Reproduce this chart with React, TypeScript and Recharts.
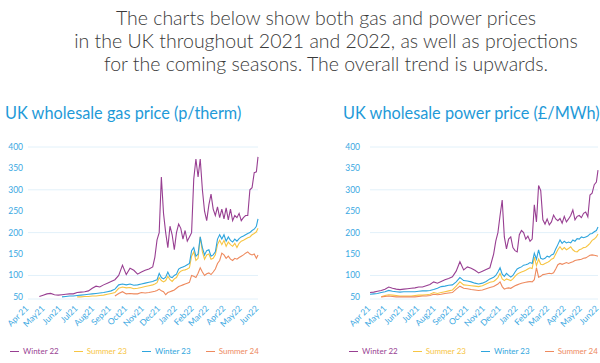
import { LineChart, Line, XAxis, YAxis, CartesianGrid, Legend } from 'recharts';

const FONT = 'Lato, "Open Sans", sans-serif';
const AXIS_BLUE = '#3aa8e2';
const TITLE_BLUE = '#1f9ad8';

// x positions: days since 1 Apr 2021 (weekly, then every 4 days)
const DAYS = [
  0, 7, 14, 21, 28, 35, 42, 49, 56, 63, 70, 77, 84, 91, 98, 105, 112, 119, 126, 133, 140, 147, 154,
  161, 168, 175, 182, 189, 196, 203, 210, 217, 224, 231,
  235, 239, 243, 247, 251, 255, 259, 263, 267, 271, 275, 279, 283, 287, 291, 295, 299, 303, 307, 311,
  315, 319, 323, 327, 331, 335, 339, 343, 347, 351, 355, 359, 363, 367, 371, 375, 379, 383, 387, 391,
  395, 399, 403, 407, 411, 415, 419, 423, 426,
];

const MONTH_TICKS = [0, 30, 61, 91, 122, 153, 183, 214, 244, 275, 306, 334, 365, 395, 426];
const MONTH_LABELS = ['Apr 21', 'May21', 'Jun21', 'Jul21', 'Aug21', 'Sep21', 'Oct21', 'Nov21', 'Dec21', 'Jan22', 'Feb22', 'Mar22', 'Apr22', 'May22', 'Jun22'];
const Y_TICKS = [50, 100, 150, 200, 250, 300, 350, 400];

const SERIES = [
  { key: 'w22', name: 'Winter 22', color: '#983f92' },
  { key: 's23', name: 'Summer 23', color: '#f7c543' },
  { key: 'w23', name: 'Winter 23', color: '#2ea5dd' },
  { key: 's24', name: 'Summer 24', color: '#ee8a5e' },
];

// gas, p/therm
const GAS_WINTER22 = [
  null, null, null, 51, 54, 57, 58, 55, 54, 55, 56, 57, 57, 60, 61, 62, 64, 70, 75, 73, 78, 82, 86,
  90, 100, 124, 102, 117, 112, 103, 108, 112, 115, 120,
  143, 183, 200, 330, 245, 200, 165, 215, 195, 160, 200, 220, 210, 185, 205, 180, 190, 200, 325, 372,
  330, 372, 300, 250, 228, 265, 290, 255, 240, 260, 235, 255, 232, 258, 230, 255, 228, 240, 235, 245,
  228, 235, 240, 240, 300, 305, 340, 342, 377,
];
const GAS_SUMMER23 = [
  null, null, null, null, null, null, null, null, null, null, null, null, null, 50, 50, 51, 51, 52, 52, 53, 54, 56, 58,
  60, 70, 73, 71, 72, 69, 70, 72, 74, 76, 78,
  80, 83, 95, 88, 85, 88, 98, 90, 86, 92, 95, 105, 110, 112, 113, 115, 118, 145, 155, 135,
  140, 190, 155, 138, 148, 150, 138, 140, 148, 172, 182, 172, 182, 168, 178, 172, 168, 175, 165, 175,
  180, 182, 185, 188, 190, 195, 198, 202, 210,
];
const GAS_WINTER23 = [
  null, null, null, null, null, null, null, null, null, 50, 51, 52, 52, 53, 54, 55, 56, 57, 58, 59, 60, 62, 64,
  68, 78, 80, 78, 80, 77, 78, 80, 82, 84, 86,
  88, 90, 105, 95, 92, 96, 108, 97, 95, 100, 103, 115, 118, 120, 122, 125, 128, 158, 165, 145,
  150, 190, 165, 148, 158, 160, 145, 148, 155, 185, 195, 185, 195, 180, 190, 182, 178, 185, 180, 186,
  190, 192, 195, 198, 200, 205, 208, 215, 232,
];
const GAS_SUMMER24 = [
  null, null, null, null, null, null, null, null, null, null, null, null, null, null, null, null, null, null, null, null, null, null, null,
  52, 58, 62, 57, 58, 57, 57, 60, 59, 60, 62,
  63, 65, 68, 64, 62, 55, 60, 62, 64, 66, 70, 74, 76, 78, 80, 82, 84, 100, 98, 95,
  105, 118, 108, 100, 104, 106, 102, 108, 115, 128, 135, 152, 148, 140, 145, 138, 135, 140, 138, 142,
  145, 148, 152, 155, 150, 148, 150, 140, 148,
];

// power, £/MWh
const POWER_WINTER22 = [
  60, 61, 63, 65, 68, 73, 70, 68, 67, 68, 69, 70, 71, 73, 73, 76, 79, 85, 82, 86, 90, 93, 97,
  110, 132, 113, 120, 117, 112, 106, 110, 114, 118, 150,
  180, 200, 240, 276, 190, 162, 185, 190, 165, 158, 155, 195, 205, 200, 185, 192, 180, 185, 265, 225,
  310, 298, 230, 220, 232, 218, 225, 241, 232, 228, 233, 222, 238, 225, 232, 240, 253, 230, 238, 240,
  235, 245, 248, 237, 288, 292, 312, 318, 346,
];
const POWER_SUMMER23 = [
  null, null, null, 50, 53, 55, 54, 53, 52, 52, 52, 52, 53, 54, 54, 55, 56, 60, 58, 60, 62, 64, 66,
  75, 85, 78, 77, 76, 75, 74, 76, 80, 84, 86,
  90, 95, 105, 92, 88, 92, 90, 88, 92, 98, 103, 106, 108, 110, 112, 115, 118, 116, 143, 123,
  138, 126, 125, 128, 130, 133, 138, 140, 150, 160, 167, 160, 165, 160, 163, 167, 160, 156, 155, 160,
  162, 165, 166, 170, 175, 182, 185, 190, 197,
];
const POWER_WINTER23 = [
  56, 57, 58, 60, 62, 65, 63, 62, 61, 62, 62, 62, 62, 63, 64, 64, 65, 67, 70, 74, 75, 77, 78,
  85, 95, 88, 87, 85, 82, 80, 82, 86, 92, 96,
  100, 108, 118, 103, 98, 105, 100, 96, 100, 108, 115, 118, 120, 124, 125, 127, 130, 128, 152, 138,
  160, 140, 138, 140, 145, 143, 148, 150, 162, 172, 183, 175, 180, 176, 178, 176, 183, 180, 186, 185,
  190, 188, 190, 192, 197, 198, 202, 205, 213,
];
const POWER_SUMMER24 = [
  null, null, null, 50, 51, 52, 51, 50, 50, 50, 50, 50, 50, 51, 52, 52, 53, 56, 55, 56, 58, 59, 60,
  68, 75, 70, 69, 67, 66, 65, 66, 69, 72, 74,
  77, 80, 85, 74, 68, 70, 71, 70, 73, 76, 78, 80, 82, 83, 84, 85, 86, 85, 90, 118,
  96, 98, 102, 103, 104, 105, 104, 106, 115, 125, 128, 126, 128, 130, 128, 130, 132, 135, 136, 137,
  138, 140, 141, 144, 147, 148, 147, 146, 145,
];

const HEADLINE = [
  'The charts below show both gas and power prices',
  'in the UK throughout 2021 and 2022, as well as projections',
  'for the coming seasons. The overall trend is upwards.',
];

function buildRows(w22: (number | null)[], s23: (number | null)[], w23: (number | null)[], s24: (number | null)[]) {
  return DAYS.map((day, i) => ({ day, w22: w22[i], s23: s23[i], w23: w23[i], s24: s24[i] }));
}

const gasRows = buildRows(GAS_WINTER22, GAS_SUMMER23, GAS_WINTER23, GAS_SUMMER24);
const powerRows = buildRows(POWER_WINTER22, POWER_SUMMER23, POWER_WINTER23, POWER_SUMMER24);

function MonthTick({ x, y, payload }: any) {
  const label = MONTH_LABELS[MONTH_TICKS.indexOf(payload.value)];
  const tx = x + 1;
  const ty = y + 10;
  return (
    <text x={tx} y={ty} transform={`rotate(-45 ${tx} ${ty})`} textAnchor="end" fill={AXIS_BLUE} fontSize={8.5} fontFamily={FONT}>
      {label}
    </text>
  );
}

function SeriesLegend({ pad }: { pad: number }) {
  return (
    <div style={{ display: 'flex', alignItems: 'center', height: 14, paddingLeft: pad, fontFamily: FONT, fontSize: 8, whiteSpace: 'nowrap' }}>
      {SERIES.map((s) => (
        <span key={s.key} style={{ display: 'inline-flex', alignItems: 'center', marginRight: 15, color: s.color, whiteSpace: 'nowrap' }}>
          <span style={{ width: 9, borderTop: `1.3px solid ${s.color}`, marginRight: 4 }} />
          {s.name}
        </span>
      ))}
    </div>
  );
}

interface ChartProps {
  title: string;
  rows: ReturnType<typeof buildRows>;
  left: number;
  titleLeft: number;
  yWidth: number;
  yGap: number;
  right: number;
  legendPad: number;
}

function PriceChart({ title, rows, left, titleLeft, yWidth, yGap, right, legendPad }: ChartProps) {
  return (
    <>
      <div style={{ position: 'absolute', left: titleLeft, top: 102, fontFamily: FONT, fontSize: 16.3, lineHeight: '22px', color: TITLE_BLUE, whiteSpace: 'nowrap' }}>
        {title}
      </div>
      <div style={{ position: 'absolute', left, top: 135 }}>
        <LineChart width={270} height={228} data={rows} margin={{ top: 12, right, bottom: 5, left: 0 }}>
          <CartesianGrid vertical={false} stroke="#e2f1fa" />
          <XAxis
            dataKey="day"
            type="number"
            domain={[0, 426]}
            ticks={MONTH_TICKS}
            interval={0}
            axisLine={false}
            tickLine={false}
            tickSize={0}
            tickMargin={0}
            height={45}
            tick={<MonthTick />}
          />
          <YAxis
            domain={[45, 400]}
            ticks={Y_TICKS}
            width={yWidth}
            axisLine={false}
            tickLine={false}
            tickSize={0}
            tickMargin={yGap}
            tick={{ fill: AXIS_BLUE, fontSize: 8.5, fontFamily: FONT }}
          />
          <Legend verticalAlign="bottom" align="left" wrapperStyle={{ left: 0, width: 270 }} content={() => <SeriesLegend pad={legendPad} />} />
          {SERIES.map((s) => (
            <Line
              key={s.key}
              dataKey={s.key}
              name={s.name}
              type="linear"
              stroke={s.color}
              strokeWidth={1.1}
              dot={false}
              isAnimationActive={false}
            />
          ))}
        </LineChart>
      </div>
    </>
  );
}

export default function App() {
  return (
    <div style={{ position: 'absolute', left: 0, top: 0, width: 600, height: 363, background: '#fff', overflow: 'hidden' }}>
      {HEADLINE.map((line, i) => (
        <div
          key={i}
          style={{ position: 'absolute', left: 26, width: 600, top: 6 + i * 23, textAlign: 'center', fontFamily: FONT, fontWeight: 300, fontSize: 19.5, lineHeight: '23px', color: '#3a3a3a', whiteSpace: 'nowrap' }}
        >
          {line}
        </div>
      ))}
      <PriceChart title="UK wholesale gas price (p/therm)" rows={gasRows} left={0} titleLeft={5} yWidth={28} yGap={5} right={12} legendPad={10} />
      <PriceChart title="UK wholesale power price (£/MWh)" rows={powerRows} left={330} titleLeft={343} yWidth={40} yGap={10} right={2} legendPad={19} />
    </div>
  );
}
